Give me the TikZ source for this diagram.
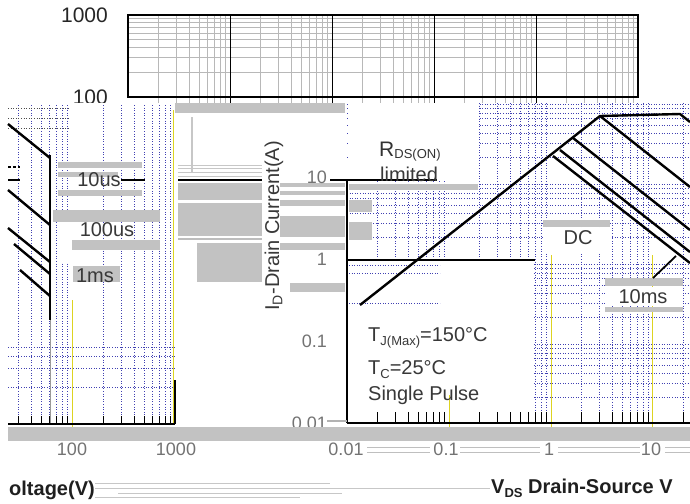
\documentclass[tikz,border=0pt]{standalone}
\usepackage{fontspec}
\setmainfont{Liberation Sans}
\begin{document}
\begin{tikzpicture}[x=1pt,y=-1pt,
  gridln/.style={draw=black!28, line width=0.9pt},
  band/.style={fill=black!24, draw=none},
  thinband/.style={draw=black!26, line width=1.2pt},
  dgrid/.style={draw=blue!60!black!75, dotted, line width=0.6pt},
  kgrid/.style={draw=black!70, dotted, line width=0.6pt},
  ylw/.style={draw=yellow!85!black, line width=0.9pt},
  curve/.style={draw=black, line width=2.4pt},
  axisln/.style={draw=black, line width=1.8pt},
  ticklab/.style={font=\fontsize{18}{18}\selectfont, text=black!55, inner sep=0pt},
  bigtick/.style={font=\fontsize{21}{21}\selectfont, text=black!85, inner sep=0pt},
  lab/.style={font=\fontsize{20}{20}\selectfont, text=black!78, inner sep=0pt},
  axtitle/.style={font=\fontsize{20}{20}\selectfont\bfseries, text=black!88, inner sep=0pt},
]
\useasboundingbox (0,0) rectangle (690,503);
\fill[white] (0,0) rectangle (690,503);

% ---------- top chart ----------
\foreach \k in {2,...,9} \draw[gridln] (128,{97-82*log10(\k)}) -- (638,{97-82*log10(\k)});
\foreach \d in {0,...,4} \foreach \k in {2,...,9} \draw[gridln] ({128+102*\d+102*log10(\k)},15) -- ++(0,88);
\foreach \d in {1,...,4} \draw[black,line width=1pt] ({128+102*\d},15) -- ++(0,88);
\draw[black,line width=1.4pt] (128,15) rectangle (638,97);
\node[bigtick, anchor=east] (t1000) at (108,15) {1000};
\node[bigtick, anchor=east] (t100) at (108,97) {100};
\fill[white] (0,103) rectangle (690,503);

% ---------- left partial chart ----------
\foreach \x in {18,31,41,49,56,62,67,103,121,134,144,152,159,165,170} \draw[dgrid] (\x,105) -- (\x,423);
\foreach \y in {347,356,368,387} \draw[dgrid] (8,\y) -- (175,\y);
\foreach \y in {108,118,128} \draw[kgrid] (8,\y) -- (70,\y);
\draw[ylw] (72,300) -- (72,432);
\draw[ylw] (173,110) -- (173,423);
\draw[black,line width=1.6pt] (175,380) -- (175,424);
\draw[black,line width=1.6pt] (50,155) -- (50,320);
\draw[black!40,line width=1pt] (50,320) -- (50,423);
% grey bands left
\fill[band] (58,162) rectangle (142,168);
\fill[band] (58,172) rectangle (118,177);
\fill[band] (58,190) rectangle (142,196);
\fill[band] (53,210) rectangle (160,222);
\fill[band] (72,240) rectangle (160,250);
\fill[band] (73,266) rectangle (120,282);
\fill[white] (60,222) rectangle (72,262);
% diagonals
\draw[curve] (8,124) -- (50,158);
\draw[curve] (8,190) -- (50,225);
\draw[curve] (8,228) -- (50,262);
\draw[curve] (14,244) -- (50,274);
\draw[curve] (20,270) -- (50,296);
\draw[black,line width=1.8pt] (8,180) -- (20,180);
\draw[black,densely dashed,line width=1.2pt] (8,167) -- (20,167);
% labels
\node[lab] (l10us) at (99,180) {10us};
\draw[black,line width=2pt] (l10us.east) -- (145,180);
\node[lab] (l100us) at (107,230) {100us};
\node[lab] (l1ms) at (95,276) {1ms};
% axis
\draw[axisln] (8,424) -- (175,424);
\foreach \x in {18,31,41,49,56,62,67,103,121,134,144,152,159,165,170} \draw[black,line width=0.8pt] (\x,424) -- (\x,416);

% ---------- middle region ----------
\fill[band] (175,103) rectangle (345,113);
\draw[black!22,line width=1.2pt] (192,117) -- (192,172);
\foreach \y in {165,168,172,176} \draw[black!22,line width=0.8pt] (178,\y) -- (262,\y);
\draw[black,line width=2.2pt] (178,180) -- (262,180);
\fill[band] (178,183) rectangle (262,200);
\fill[band] (178,203) rectangle (262,236);
\draw[thinband] (178,239) -- (262,239);
\fill[band] (197,243) rectangle (262,282);
\fill[band] (280,183) rectangle (345,187);
\fill[band] (280,191) rectangle (345,195);
\fill[band] (280,200) rectangle (345,206);
\fill[band] (280,216) rectangle (345,237);
\fill[band] (280,243) rectangle (345,250);
\fill[band] (290,283) rectangle (345,292);
\node[font=\fontsize{20}{20}\selectfont, text=black!78, inner sep=0pt, rotate=90] (ytitle) at (274,226) {I\textsubscript{D}-Drain Current(A)};

% ---------- right chart ----------
\begin{scope}
\clip (347,103) rectangle (690,421);
\foreach \d in {0,...,3} \foreach \k in {2,...,9} \draw[dgrid] ({347+102*\d+102*log10(\k)},103) -- ++(0,320);
\foreach \d in {0,...,3} \foreach \k in {2,...,9} \draw[dgrid] (347,{421-80*\d-80*log10(\k)}) -- ++(345,0);
\end{scope}
\fill[white] (349,103) rectangle (478,179);
\fill[white] (349,261) rectangle (533,419);
\foreach \y in {265,273,303} \draw[dgrid] (349,\y) -- (440,\y);
\fill[band] (349,184) rectangle (478,190);
\fill[band] (349,200) rectangle (372,212);
\fill[band] (349,222) rectangle (372,240);
\draw[ylw] (551,255) -- (551,430);
\draw[ylw] (652,255) -- (652,430);
\draw[ylw] (449,395) -- (449,430);
% DC and 10ms boxes
\fill[band] (543,220) rectangle (610,227);
\fill[white] (543,228) rectangle (612,252);
\fill[band] (605,278) rectangle (683,286);
\fill[white] (605,287) rectangle (683,306);
\fill[band] (605,307) rectangle (683,312);
% axes
\draw[black,line width=2.2pt] (330,180) -- (437,180);
\draw[black,line width=1.4pt] (348,260) -- (535,260);
\draw[axisln] (347,180) -- (347,423);
\draw[axisln] (347,423) -- (690,423);
\draw[black!30,line width=1.5pt] (327,421) -- (347,421);
\foreach \d in {0,...,3} \foreach \k in {2,...,9} \draw[black,line width=0.8pt] ({347+102*\d+102*log10(\k)},423) -- ++(0,-11);
% curves
\draw[curve] (360,305) -- (600,116) -- (680,114) -- (690,122);
\draw[curve] (600,116) -- (690,187);
\draw[curve] (573,138) -- (690,230);
\draw[curve] (560,150) -- (690,252);
\draw[curve] (553,156) -- (690,263);
\draw[black,line width=1.8pt] (653,278) -- (676,256);
% labels
\node[font=\fontsize{21}{21}\selectfont, text=black!80, inner sep=0pt, anchor=base west] (rds) at (379,156) {R\raisebox{-0.2ex}{\fontsize{13}{13}\selectfont DS(ON)}};
\node[lab, anchor=base west] (lim) at (380,181) {limited};
\node[lab] (dc) at (578,238) {DC};
\node[lab] (t10ms) at (643,297) {10ms};
\node[lab, anchor=base west] (tj) at (368,341) {T\raisebox{-0.4ex}{\fontsize{13}{13}\selectfont J(Max)}=150°C};
\node[lab, anchor=base west] (tc) at (368,374) {T\raisebox{-0.4ex}{\fontsize{13}{13}\selectfont C}=25°C};
\node[lab, anchor=base west] (sp) at (368,400) {Single Pulse};

% y tick labels
\node[ticklab, anchor=east] (y10) at (327,177) {10};
\node[ticklab, anchor=east] (y1) at (327,259) {1};
\node[ticklab, anchor=east] (y01) at (327,341) {0.1};
\node[ticklab, anchor=east] (y001) at (327,423) {0.01};

% ---------- bottom strip ----------
\fill[band] (8,427) rectangle (690,441);
\foreach \a/\b in {367/430,460/540,558/640,665/690} {
  \draw[black!25,line width=1pt] (\a,447) -- (\b,447);
  \draw[black!25,line width=1pt] (\a,452) -- (\b,452);
}
\node[ticklab] (x100) at (72,449) {100};
\node[ticklab] (x1000) at (176,449) {1000};
\node[ticklab] (x001) at (346,449) {0.01};
\node[ticklab] (x01) at (446,449) {0.1};
\node[ticklab] (x1) at (549,449) {1};
\node[ticklab] (x10) at (651,449) {10};
\foreach \y/\a/\b in {483/95/330,488/95/490,493/118/342,497/95/300} \draw[black!22,line width=1pt] (\a,\y) -- (\b,\y);
\node[axtitle, anchor=west] (xtl) at (9,490) {oltage(V)};
\node[axtitle, anchor=west] (xtr) at (491,488) {V\raisebox{-0.4ex}{\fontsize{13}{13}\selectfont DS} Drain-Source V};
\end{tikzpicture}
\end{document}
